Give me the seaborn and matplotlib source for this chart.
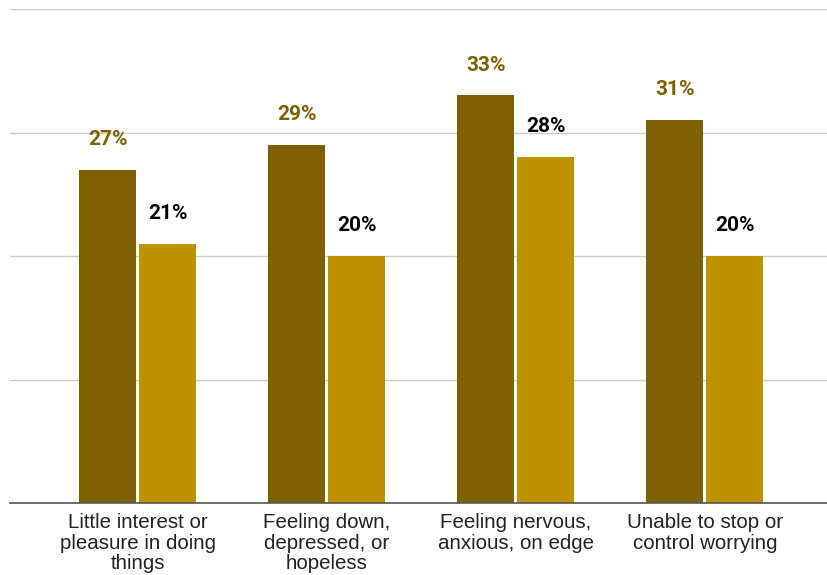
import pandas as pd
import matplotlib
matplotlib.use("Agg")
import matplotlib.pyplot as plt
import seaborn as sns

# Données
categories = ["Little interest or\npleasure in doing\nthings",
              "Feeling down,\ndepressed, or\nhopeless",
              "Feeling nervous,\nanxious, on edge",
              "Unable to stop or\ncontrol worrying"]
serie_a = [27, 29, 33, 31]
serie_b = [21, 20, 28, 20]
series = ["A", "B"]

couleurs = ["#7f6000", "#bf9000"]
couleurs_labels = ["#7f6000", "#000000"]

df = pd.DataFrame({
    "cat": categories * 2,
    "val": serie_a + serie_b,
    "serie": [series[0]] * 4 + [series[1]] * 4,
})

sns.set_theme(style="white")
plt.rcParams['font.family'] = ['Liberation Sans', 'DejaVu Sans']

fig = plt.figure(figsize=(8.27, 5.75), dpi=100)
ax = fig.add_axes([0.012, 0.1252, 0.988, 0.8591])

sns.barplot(data=df, x="cat", y="val", hue="serie", palette=couleurs,
            width=0.635, gap=0.05, legend=False, ax=ax, saturation=1)

for p in ax.patches:
    p.set_edgecolor("none")

for i, cont in enumerate(ax.containers):
    ax.bar_label(cont, labels=[f"{int(round(v))}%" for v in cont.datavalues], padding=15,
                 color=couleurs_labels[i], fontsize=15, fontweight="bold",
                 family=["Roboto", "DejaVu Sans"])

ax.set_ylim(0, 40)
ax.set_xlim(-0.677, 3.646)
ax.set_yticks([0, 10, 20, 30, 40])
ax.yaxis.grid(True, color="#cccccc", linewidth=1)
ax.set_axisbelow(True)
ax.tick_params(axis="y", left=False, labelleft=False)
ax.tick_params(axis="x", length=0, pad=7, labelsize=14.8, colors="#222222")
for t in ax.get_xticklabels():
    t.set_linespacing(1.12)
ax.set_xlabel("")
ax.set_ylabel("")
for s in ["top", "right", "left"]:
    ax.spines[s].set_visible(False)
ax.spines["bottom"].set_color("#555555")
ax.spines["bottom"].set_linewidth(1.2)

fig.savefig("out.png", dpi=100)
